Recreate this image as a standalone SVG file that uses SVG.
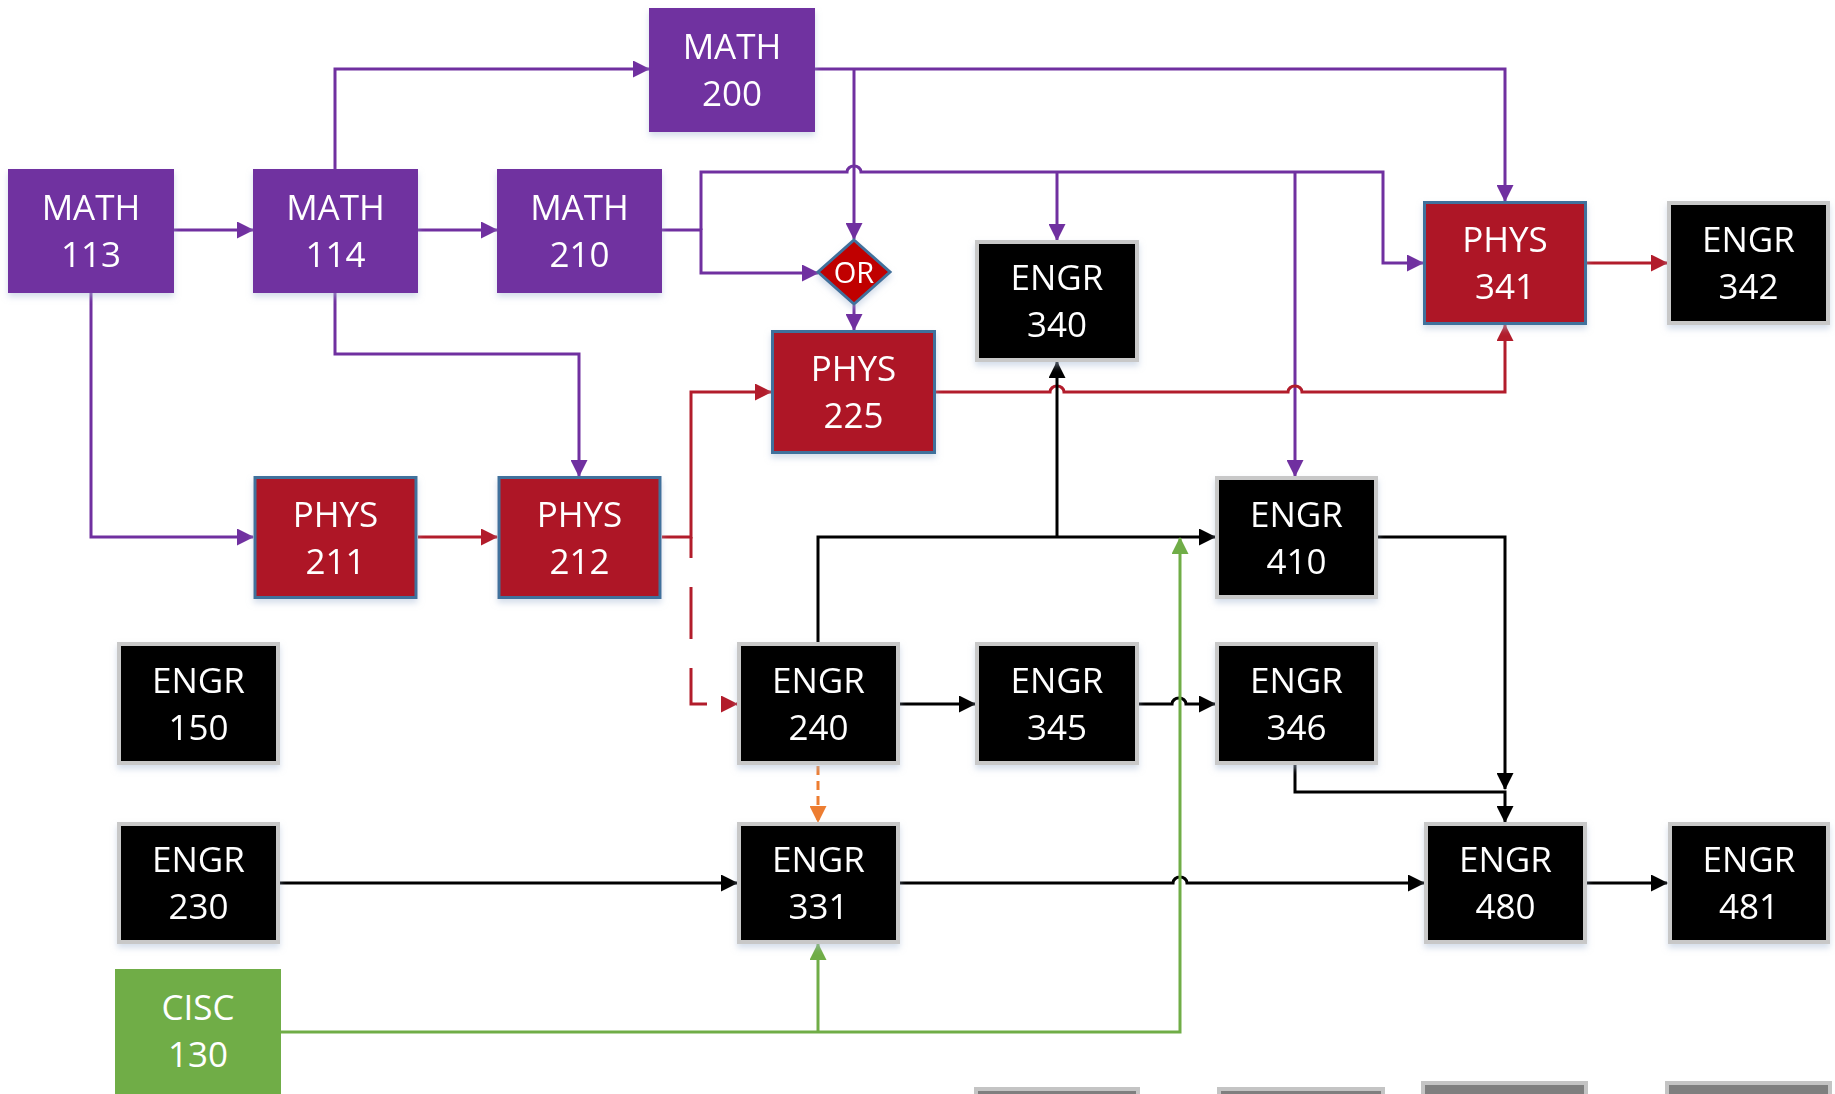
<svg xmlns="http://www.w3.org/2000/svg" width="1835" height="1094" viewBox="0 0 1835 1094">
<style>
.t{font-family:"Open Sans","Noto Sans","Liberation Sans",sans-serif;font-size:35px;fill:#fff;text-anchor:middle}
.math{fill:#7030A0}
.phys{fill:#AE1827;stroke:#41719C;stroke-width:3}
.engr{fill:#000;stroke:#C8C8C8;stroke-width:4}
.cisc{fill:#70AD47}
.gray{fill:#7F7F7F;stroke:#C4C4C4;stroke-width:4}
.c{fill:none;stroke-width:3;stroke-linejoin:miter}
.p{stroke:#7030A0;marker-end:url(#ap)}
.r{stroke:#B21C2B;marker-end:url(#ar)}
.k{stroke:#000;marker-end:url(#ak)}
.g{stroke:#70AD47;marker-end:url(#ag)}
.o{stroke:#ED7D31;stroke-dasharray:9,6;marker-end:url(#ao)}
</style>
<defs>
<filter id="sh" x="-10%" y="-10%" width="120%" height="130%">
<feDropShadow dx="0" dy="4" stdDeviation="3" flood-color="#A9BCD6" flood-opacity="0.5"/>
</filter>
<marker id="ap" markerUnits="userSpaceOnUse" markerWidth="17" markerHeight="17" refX="16" refY="8.5" orient="auto"><path d="M0,0 L17,8.5 L0,17 z" fill="#7030A0"/></marker>
<marker id="ar" markerUnits="userSpaceOnUse" markerWidth="17" markerHeight="17" refX="16" refY="8.5" orient="auto"><path d="M0,0 L17,8.5 L0,17 z" fill="#B21C2B"/></marker>
<marker id="ak" markerUnits="userSpaceOnUse" markerWidth="17" markerHeight="17" refX="16" refY="8.5" orient="auto"><path d="M0,0 L17,8.5 L0,17 z" fill="#000"/></marker>
<marker id="ag" markerUnits="userSpaceOnUse" markerWidth="17" markerHeight="17" refX="16" refY="8.5" orient="auto"><path d="M0,0 L17,8.5 L0,17 z" fill="#70AD47"/></marker>
<marker id="ao" markerUnits="userSpaceOnUse" markerWidth="17" markerHeight="17" refX="16" refY="8.5" orient="auto"><path d="M0,0 L17,8.5 L0,17 z" fill="#ED7D31"/></marker>
</defs>
<rect width="1835" height="1094" fill="#fff"/>

<g id="connectors">
<!-- purple -->
<path class="c p" d="M174,230 H253"/>
<path class="c p" d="M418,230 H497"/>
<path class="c p" d="M335,169 V69 H649"/>
<path class="c p" d="M815,69 H1505 V201"/>
<path class="c p" d="M854,69 V239"/>
<path class="c p" d="M662,230 H701 V273 H818"/>
<path class="c p" d="M701,230 V172 H847 A7,6 0 0 1 861,172 H1383 V263 H1423"/>
<path class="c p" d="M1057,172 V240"/>
<path class="c p" d="M1295,172 V476"/>
<path class="c p" d="M854,305 V330"/>
<path class="c p" d="M91,293 V537 H253"/>
<path class="c p" d="M335,293 V354 H579 V476"/>
<!-- red -->
<path class="c r" d="M418,537 H497"/>
<path class="c r" d="M662,537 H691 V392 H771"/>
<path class="c r" d="M691,537 V704 H737" stroke-dasharray="52,29" stroke-dashoffset="31"/>
<path class="c r" d="M936,392 H1050 A7,6 0 0 1 1064,392 H1288 A7,6 0 0 1 1302,392 H1505 V325"/>
<path class="c r" d="M1587,263 H1667"/>
<!-- black -->
<path class="c k" d="M818,642 V537 H1215"/>
<path class="c k" d="M1057,537 V362"/>
<path class="c k" d="M900,704 H975"/>
<path class="c k" d="M1139,704 H1172 A7,6 0 0 1 1186,704 H1215"/>
<path class="c k" d="M1378,537 H1505 V789"/>
<path class="c k" d="M1295,765 V792 H1505 V822"/>
<path class="c k" d="M280,883 H737"/>
<path class="c k" d="M899,883 H1173 A7,6 0 0 1 1187,883 H1424"/>
<path class="c k" d="M1587,883 H1667"/>
<!-- orange -->
<path class="c o" d="M818,766 V822"/>
<!-- green -->
<path class="c g" d="M281,1032 H1180 V538"/>
<path class="c g" d="M818,1032 V944"/>
</g>

<g id="MATH200" filter="url(#sh)"><rect class="math" x="649" y="8" width="166" height="124"/><text class="t" x="732" y="59">MATH</text><text class="t" x="732" y="106">200</text></g>
<g id="MATH113" filter="url(#sh)"><rect class="math" x="8" y="169" width="166" height="124"/><text class="t" x="91" y="220">MATH</text><text class="t" x="91" y="267">113</text></g>
<g id="MATH114" filter="url(#sh)"><rect class="math" x="253" y="169" width="165" height="124"/><text class="t" x="335.5" y="220">MATH</text><text class="t" x="335.5" y="267">114</text></g>
<g id="MATH210" filter="url(#sh)"><rect class="math" x="497" y="169" width="165" height="124"/><text class="t" x="579.5" y="220">MATH</text><text class="t" x="579.5" y="267">210</text></g>

<g id="OR" filter="url(#sh)"><polygon points="854,240 890,272 854,304 818,272" fill="#C00000" stroke="#41719C" stroke-width="3"/><text class="t" x="854" y="283" style="font-size:29px">OR</text></g>

<g id="PHYS225" filter="url(#sh)"><rect class="phys" x="772.5" y="331.5" width="162" height="121"/><text class="t" x="853.5" y="381">PHYS</text><text class="t" x="853.5" y="428">225</text></g>
<g id="PHYS341" filter="url(#sh)"><rect class="phys" x="1424.5" y="202.5" width="161" height="121"/><text class="t" x="1505" y="252">PHYS</text><text class="t" x="1505" y="299">341</text></g>
<g id="PHYS211" filter="url(#sh)"><rect class="phys" x="255" y="477.5" width="161" height="120"/><text class="t" x="335.5" y="527">PHYS</text><text class="t" x="335.5" y="574">211</text></g>
<g id="PHYS212" filter="url(#sh)"><rect class="phys" x="499" y="477.5" width="161" height="120"/><text class="t" x="579.5" y="527">PHYS</text><text class="t" x="579.5" y="574">212</text></g>

<g id="ENGR340" filter="url(#sh)"><rect class="engr" x="977" y="242" width="160" height="118"/><text class="t" x="1057" y="290">ENGR</text><text class="t" x="1057" y="337">340</text></g>
<g id="ENGR342" filter="url(#sh)"><rect class="engr" x="1669" y="203" width="159" height="120"/><text class="t" x="1748.5" y="252">ENGR</text><text class="t" x="1748.5" y="299">342</text></g>
<g id="ENGR410" filter="url(#sh)"><rect class="engr" x="1217" y="478" width="159" height="119"/><text class="t" x="1296.5" y="527">ENGR</text><text class="t" x="1296.5" y="574">410</text></g>
<g id="ENGR150" filter="url(#sh)"><rect class="engr" x="119" y="644" width="159" height="119"/><text class="t" x="198.5" y="693">ENGR</text><text class="t" x="198.5" y="740">150</text></g>
<g id="ENGR240" filter="url(#sh)"><rect class="engr" x="739" y="644" width="159" height="119"/><text class="t" x="818.5" y="693">ENGR</text><text class="t" x="818.5" y="740">240</text></g>
<g id="ENGR345" filter="url(#sh)"><rect class="engr" x="977" y="644" width="160" height="119"/><text class="t" x="1057" y="693">ENGR</text><text class="t" x="1057" y="740">345</text></g>
<g id="ENGR346" filter="url(#sh)"><rect class="engr" x="1217" y="644" width="159" height="119"/><text class="t" x="1296.5" y="693">ENGR</text><text class="t" x="1296.5" y="740">346</text></g>
<g id="ENGR230" filter="url(#sh)"><rect class="engr" x="119" y="824" width="159" height="118"/><text class="t" x="198.5" y="872">ENGR</text><text class="t" x="198.5" y="919">230</text></g>
<g id="ENGR331" filter="url(#sh)"><rect class="engr" x="739" y="824" width="159" height="118"/><text class="t" x="818.5" y="872">ENGR</text><text class="t" x="818.5" y="919">331</text></g>
<g id="ENGR480" filter="url(#sh)"><rect class="engr" x="1426" y="824" width="159" height="118"/><text class="t" x="1505.5" y="872">ENGR</text><text class="t" x="1505.5" y="919">480</text></g>
<g id="ENGR481" filter="url(#sh)"><rect class="engr" x="1670" y="824" width="158" height="118"/><text class="t" x="1749" y="872">ENGR</text><text class="t" x="1749" y="919">481</text></g>

<g id="CISC130"><rect class="cisc" x="115" y="969" width="166" height="140"/><text class="t" x="198" y="1020">CISC</text><text class="t" x="198" y="1067">130</text></g>

<g id="bottom1"><rect class="gray" x="976" y="1089" width="162" height="30"/></g>
<g id="bottom2"><rect class="gray" x="1219" y="1089" width="164" height="30"/></g>
<g id="bottom3"><rect class="gray" x="1423" y="1083" width="163" height="30"/></g>
<g id="bottom4"><rect class="gray" x="1667" y="1083" width="163" height="30"/></g>
</svg>
